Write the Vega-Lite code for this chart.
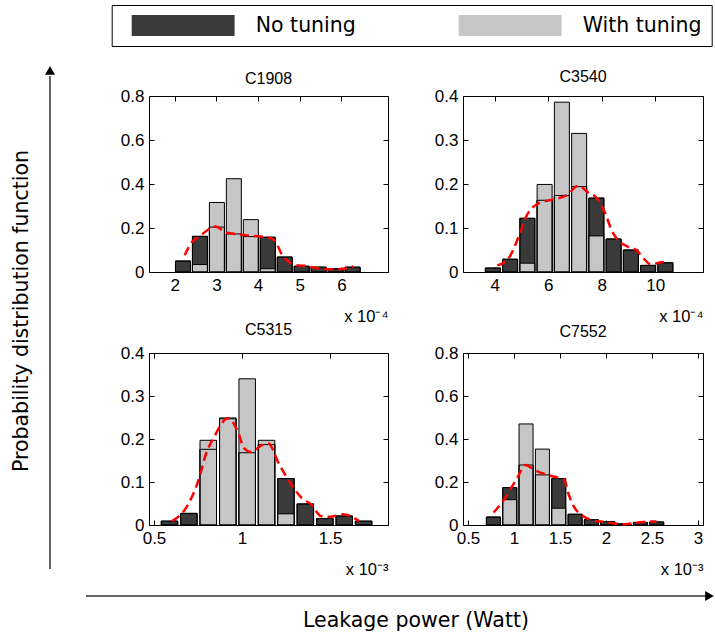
{
  "$schema": "https://vega.github.io/schema/vega-lite/v6.json",
  "padding": {"left": 0, "top": 4, "right": 0, "bottom": 0},
  "columns": 3,
  "bounds": "flush",
  "align": "each",
  "spacing": {"row": 81, "column": 75},
  "datasets": {
    "hist": [
      {"circuit": "C1908", "series": "No tuning", "leakage": 2.196, "pdf": 0.050},
      {"circuit": "C1908", "series": "No tuning", "leakage": 2.603, "pdf": 0.162},
      {"circuit": "C1908", "series": "No tuning", "leakage": 3.011, "pdf": 0.204},
      {"circuit": "C1908", "series": "No tuning", "leakage": 3.418, "pdf": 0.173},
      {"circuit": "C1908", "series": "No tuning", "leakage": 3.826, "pdf": 0.161},
      {"circuit": "C1908", "series": "No tuning", "leakage": 4.233, "pdf": 0.158},
      {"circuit": "C1908", "series": "No tuning", "leakage": 4.640, "pdf": 0.068},
      {"circuit": "C1908", "series": "No tuning", "leakage": 5.048, "pdf": 0.026},
      {"circuit": "C1908", "series": "No tuning", "leakage": 5.455, "pdf": 0.022},
      {"circuit": "C1908", "series": "No tuning", "leakage": 5.863, "pdf": 0.015},
      {"circuit": "C1908", "series": "No tuning", "leakage": 6.270, "pdf": 0.022},
      {"circuit": "C1908", "series": "With tuning", "leakage": 2.603, "pdf": 0.034},
      {"circuit": "C1908", "series": "With tuning", "leakage": 3.011, "pdf": 0.316},
      {"circuit": "C1908", "series": "With tuning", "leakage": 3.418, "pdf": 0.424},
      {"circuit": "C1908", "series": "With tuning", "leakage": 3.826, "pdf": 0.238},
      {"circuit": "C1908", "series": "With tuning", "leakage": 4.233, "pdf": 0.015},
      {"circuit": "C3540", "series": "No tuning", "leakage": 3.930, "pdf": 0.009},
      {"circuit": "C3540", "series": "No tuning", "leakage": 4.575, "pdf": 0.029},
      {"circuit": "C3540", "series": "No tuning", "leakage": 5.220, "pdf": 0.122},
      {"circuit": "C3540", "series": "No tuning", "leakage": 5.865, "pdf": 0.163},
      {"circuit": "C3540", "series": "No tuning", "leakage": 6.510, "pdf": 0.174},
      {"circuit": "C3540", "series": "No tuning", "leakage": 7.155, "pdf": 0.194},
      {"circuit": "C3540", "series": "No tuning", "leakage": 7.800, "pdf": 0.168},
      {"circuit": "C3540", "series": "No tuning", "leakage": 8.445, "pdf": 0.075},
      {"circuit": "C3540", "series": "No tuning", "leakage": 9.090, "pdf": 0.050},
      {"circuit": "C3540", "series": "No tuning", "leakage": 9.735, "pdf": 0.015},
      {"circuit": "C3540", "series": "No tuning", "leakage": 10.380, "pdf": 0.021},
      {"circuit": "C3540", "series": "With tuning", "leakage": 5.220, "pdf": 0.020},
      {"circuit": "C3540", "series": "With tuning", "leakage": 5.865, "pdf": 0.199},
      {"circuit": "C3540", "series": "With tuning", "leakage": 6.510, "pdf": 0.386},
      {"circuit": "C3540", "series": "With tuning", "leakage": 7.155, "pdf": 0.315},
      {"circuit": "C3540", "series": "With tuning", "leakage": 7.800, "pdf": 0.082},
      {"circuit": "C5315", "series": "No tuning", "leakage": 0.588, "pdf": 0.009},
      {"circuit": "C5315", "series": "No tuning", "leakage": 0.698, "pdf": 0.027},
      {"circuit": "C5315", "series": "No tuning", "leakage": 0.808, "pdf": 0.176},
      {"circuit": "C5315", "series": "No tuning", "leakage": 0.919, "pdf": 0.247},
      {"circuit": "C5315", "series": "No tuning", "leakage": 1.029, "pdf": 0.168},
      {"circuit": "C5315", "series": "No tuning", "leakage": 1.139, "pdf": 0.187},
      {"circuit": "C5315", "series": "No tuning", "leakage": 1.249, "pdf": 0.108},
      {"circuit": "C5315", "series": "No tuning", "leakage": 1.359, "pdf": 0.049},
      {"circuit": "C5315", "series": "No tuning", "leakage": 1.470, "pdf": 0.015},
      {"circuit": "C5315", "series": "No tuning", "leakage": 1.580, "pdf": 0.021},
      {"circuit": "C5315", "series": "No tuning", "leakage": 1.690, "pdf": 0.009},
      {"circuit": "C5315", "series": "With tuning", "leakage": 0.808, "pdf": 0.197},
      {"circuit": "C5315", "series": "With tuning", "leakage": 0.919, "pdf": 0.249},
      {"circuit": "C5315", "series": "With tuning", "leakage": 1.029, "pdf": 0.340},
      {"circuit": "C5315", "series": "With tuning", "leakage": 1.139, "pdf": 0.197},
      {"circuit": "C5315", "series": "With tuning", "leakage": 1.249, "pdf": 0.026},
      {"circuit": "C7552", "series": "No tuning", "leakage": 0.776, "pdf": 0.037},
      {"circuit": "C7552", "series": "No tuning", "leakage": 0.954, "pdf": 0.174},
      {"circuit": "C7552", "series": "No tuning", "leakage": 1.131, "pdf": 0.279},
      {"circuit": "C7552", "series": "No tuning", "leakage": 1.309, "pdf": 0.233},
      {"circuit": "C7552", "series": "No tuning", "leakage": 1.486, "pdf": 0.216},
      {"circuit": "C7552", "series": "No tuning", "leakage": 1.664, "pdf": 0.050},
      {"circuit": "C7552", "series": "No tuning", "leakage": 1.841, "pdf": 0.025},
      {"circuit": "C7552", "series": "No tuning", "leakage": 2.019, "pdf": 0.016},
      {"circuit": "C7552", "series": "No tuning", "leakage": 2.196, "pdf": 0.005},
      {"circuit": "C7552", "series": "No tuning", "leakage": 2.374, "pdf": 0.012},
      {"circuit": "C7552", "series": "No tuning", "leakage": 2.551, "pdf": 0.014},
      {"circuit": "C7552", "series": "With tuning", "leakage": 0.954, "pdf": 0.118},
      {"circuit": "C7552", "series": "With tuning", "leakage": 1.131, "pdf": 0.470},
      {"circuit": "C7552", "series": "With tuning", "leakage": 1.309, "pdf": 0.353},
      {"circuit": "C7552", "series": "With tuning", "leakage": 1.486, "pdf": 0.078}
    ],
    "fit": [
      {"circuit": "C1908", "leakage": 2.237, "pdf": 0.076},
      {"circuit": "C1908", "leakage": 2.406, "pdf": 0.135},
      {"circuit": "C1908", "leakage": 2.599, "pdf": 0.163},
      {"circuit": "C1908", "leakage": 2.982, "pdf": 0.207},
      {"circuit": "C1908", "leakage": 3.212, "pdf": 0.181},
      {"circuit": "C1908", "leakage": 3.443, "pdf": 0.173},
      {"circuit": "C1908", "leakage": 3.751, "pdf": 0.166},
      {"circuit": "C1908", "leakage": 4.058, "pdf": 0.161},
      {"circuit": "C1908", "leakage": 4.327, "pdf": 0.153},
      {"circuit": "C1908", "leakage": 4.442, "pdf": 0.130},
      {"circuit": "C1908", "leakage": 4.557, "pdf": 0.084},
      {"circuit": "C1908", "leakage": 4.673, "pdf": 0.057},
      {"circuit": "C1908", "leakage": 4.903, "pdf": 0.031},
      {"circuit": "C1908", "leakage": 5.134, "pdf": 0.028},
      {"circuit": "C1908", "leakage": 5.364, "pdf": 0.019},
      {"circuit": "C1908", "leakage": 5.747, "pdf": 0.012},
      {"circuit": "C1908", "leakage": 6.055, "pdf": 0.015},
      {"circuit": "C1908", "leakage": 6.286, "pdf": 0.025},
      {"circuit": "C3540", "leakage": 4.095, "pdf": 0.015},
      {"circuit": "C3540", "leakage": 4.451, "pdf": 0.026},
      {"circuit": "C3540", "leakage": 4.925, "pdf": 0.085},
      {"circuit": "C3540", "leakage": 5.162, "pdf": 0.124},
      {"circuit": "C3540", "leakage": 5.636, "pdf": 0.156},
      {"circuit": "C3540", "leakage": 6.111, "pdf": 0.164},
      {"circuit": "C3540", "leakage": 6.704, "pdf": 0.175},
      {"circuit": "C3540", "leakage": 7.119, "pdf": 0.196},
      {"circuit": "C3540", "leakage": 7.534, "pdf": 0.179},
      {"circuit": "C3540", "leakage": 7.771, "pdf": 0.171},
      {"circuit": "C3540", "leakage": 8.127, "pdf": 0.134},
      {"circuit": "C3540", "leakage": 8.364, "pdf": 0.096},
      {"circuit": "C3540", "leakage": 8.601, "pdf": 0.073},
      {"circuit": "C3540", "leakage": 8.957, "pdf": 0.058},
      {"circuit": "C3540", "leakage": 9.312, "pdf": 0.049},
      {"circuit": "C3540", "leakage": 9.550, "pdf": 0.032},
      {"circuit": "C3540", "leakage": 9.846, "pdf": 0.017},
      {"circuit": "C3540", "leakage": 10.143, "pdf": 0.021},
      {"circuit": "C3540", "leakage": 10.380, "pdf": 0.023},
      {"circuit": "C5315", "leakage": 0.603, "pdf": 0.009},
      {"circuit": "C5315", "leakage": 0.694, "pdf": 0.048},
      {"circuit": "C5315", "leakage": 0.757, "pdf": 0.110},
      {"circuit": "C5315", "leakage": 0.794, "pdf": 0.164},
      {"circuit": "C5315", "leakage": 0.839, "pdf": 0.203},
      {"circuit": "C5315", "leakage": 0.921, "pdf": 0.248},
      {"circuit": "C5315", "leakage": 0.975, "pdf": 0.218},
      {"circuit": "C5315", "leakage": 1.011, "pdf": 0.179},
      {"circuit": "C5315", "leakage": 1.048, "pdf": 0.170},
      {"circuit": "C5315", "leakage": 1.120, "pdf": 0.187},
      {"circuit": "C5315", "leakage": 1.147, "pdf": 0.190},
      {"circuit": "C5315", "leakage": 1.211, "pdf": 0.141},
      {"circuit": "C5315", "leakage": 1.274, "pdf": 0.098},
      {"circuit": "C5315", "leakage": 1.338, "pdf": 0.063},
      {"circuit": "C5315", "leakage": 1.392, "pdf": 0.048},
      {"circuit": "C5315", "leakage": 1.447, "pdf": 0.021},
      {"circuit": "C5315", "leakage": 1.501, "pdf": 0.019},
      {"circuit": "C5315", "leakage": 1.573, "pdf": 0.025},
      {"circuit": "C5315", "leakage": 1.664, "pdf": 0.009},
      {"circuit": "C7552", "leakage": 0.778, "pdf": 0.058},
      {"circuit": "C7552", "leakage": 0.882, "pdf": 0.112},
      {"circuit": "C7552", "leakage": 0.951, "pdf": 0.159},
      {"circuit": "C7552", "leakage": 1.038, "pdf": 0.221},
      {"circuit": "C7552", "leakage": 1.125, "pdf": 0.279},
      {"circuit": "C7552", "leakage": 1.229, "pdf": 0.255},
      {"circuit": "C7552", "leakage": 1.333, "pdf": 0.237},
      {"circuit": "C7552", "leakage": 1.472, "pdf": 0.221},
      {"circuit": "C7552", "leakage": 1.542, "pdf": 0.213},
      {"circuit": "C7552", "leakage": 1.594, "pdf": 0.143},
      {"circuit": "C7552", "leakage": 1.646, "pdf": 0.089},
      {"circuit": "C7552", "leakage": 1.733, "pdf": 0.047},
      {"circuit": "C7552", "leakage": 1.854, "pdf": 0.022},
      {"circuit": "C7552", "leakage": 1.993, "pdf": 0.014},
      {"circuit": "C7552", "leakage": 2.201, "pdf": 0.003},
      {"circuit": "C7552", "leakage": 2.340, "pdf": 0.011},
      {"circuit": "C7552", "leakage": 2.479, "pdf": 0.016},
      {"circuit": "C7552", "leakage": 2.549, "pdf": 0.016}
    ]
  },
  "concat": [
    {
      "width": 74, "height": 176,
      "data": {"values": [{"pos": 0.6757, "from": -1.6875, "to": 1.1136, "head": 1.146}]},
      "layer": [
        {"mark": {"type": "rule", "color": "#333333", "strokeWidth": 1.5},
         "encoding": {
           "x": {"field": "pos", "type": "quantitative", "scale": {"domain": [0, 1], "nice": false, "zero": false}, "axis": null},
           "y": {"field": "from", "type": "quantitative", "scale": {"domain": [0, 1], "nice": false, "zero": false}, "axis": null},
           "y2": {"field": "to"}}},
        {"mark": {"type": "point", "shape": "triangle-up", "size": 100, "filled": true, "color": "black", "opacity": 1},
         "encoding": {
           "x": {"field": "pos", "type": "quantitative", "scale": {"domain": [0, 1], "nice": false, "zero": false}, "axis": null},
           "y": {"field": "head", "type": "quantitative", "scale": {"domain": [0, 1], "nice": false, "zero": false}, "axis": null}}}
      ]
    },
    {
      "width": 239, "height": 176,
      "title": {"text": "C1908", "offset": 0},
      "view": {"stroke": "black", "strokeWidth": 1},
      "resolve": {"axis": {"x": "independent", "y": "independent"}},
      "layer": [
        {"data": {"name": "hist"}, "transform": [{"filter": "datum.circuit === 'C1908' && datum.series === 'No tuning'"}],
         "mark": {"type": "bar", "width": 15, "stroke": "black", "strokeWidth": 1},
         "encoding": {
           "x": {"field": "leakage", "type": "quantitative", "scale": {"domain": [1.5, 7], "nice": false, "zero": false}, "axis": {"values": [2, 3, 4, 5, 6], "title": "x 10⁻⁴"}},
           "y": {"field": "pdf", "type": "quantitative", "scale": {"domain": [0, 0.8], "nice": false}, "axis": {"values": [0, 0.2, 0.4, 0.6, 0.8], "title": null}},
           "color": {"field": "series", "type": "nominal", "scale": {"domain": ["No tuning", "With tuning"], "range": ["#3a3a3a", "#c6c6c6"]},
             "legend": {"orient": "none", "legendX": 111.7, "legendY": -91, "direction": "horizontal", "columns": 2, "title": null, "symbolType": "M-1,-1H8.8V1H-1Z", "symbolSize": 441, "symbolStrokeWidth": 0, "symbolOffset": 10, "labelFont": "DejaVu Sans", "labelFontSize": 20.5, "labelColor": "black", "labelOffset": 103, "columnPadding": 92, "strokeColor": "black", "fillColor": "white", "padding": 10}}
         }},
        {"data": {"name": "hist"}, "transform": [{"filter": "datum.circuit === 'C1908' && datum.series === 'With tuning'"}],
         "mark": {"type": "bar", "width": 15, "stroke": "black", "strokeWidth": 1},
         "encoding": {
           "x": {"field": "leakage", "type": "quantitative", "scale": {"domain": [1.5, 7], "nice": false, "zero": false}, "axis": null},
           "y": {"field": "pdf", "type": "quantitative", "scale": {"domain": [0, 0.8], "nice": false}, "axis": null},
           "color": {"field": "series", "type": "nominal", "scale": {"domain": ["No tuning", "With tuning"], "range": ["#3a3a3a", "#c6c6c6"]}}
         }},
        {"data": {"name": "hist"}, "transform": [{"filter": "datum.circuit === 'C1908' && datum.series === 'No tuning'"}],
         "mark": {"type": "bar", "width": 15, "filled": false, "stroke": "black", "strokeWidth": 1},
         "encoding": {
           "x": {"field": "leakage", "type": "quantitative", "scale": {"domain": [1.5, 7], "nice": false, "zero": false}, "axis": null},
           "y": {"field": "pdf", "type": "quantitative", "scale": {"domain": [0, 0.8], "nice": false}, "axis": null}
         }},
        {"data": {"name": "fit"}, "transform": [{"filter": "datum.circuit === 'C1908'"}],
         "mark": {"type": "line", "color": "#ff0000", "strokeWidth": 2.5, "strokeDash": [9, 5], "interpolate": "monotone"},
         "encoding": {
           "x": {"field": "leakage", "type": "quantitative", "scale": {"domain": [1.5, 7], "nice": false, "zero": false}, "axis": {"orient": "top", "values": [2, 3, 4, 5, 6], "labels": false, "title": null}},
           "y": {"field": "pdf", "type": "quantitative", "scale": {"domain": [0, 0.8], "nice": false}, "axis": {"orient": "right", "values": [0, 0.2, 0.4, 0.6, 0.8], "labels": false, "title": null}}
         }}
      ]
    },
    {
      "width": 240, "height": 176,
      "title": {"text": "C3540", "offset": 2},
      "view": {"stroke": "black", "strokeWidth": 1},
      "resolve": {"axis": {"x": "independent", "y": "independent"}},
      "layer": [
        {"data": {"name": "hist"}, "transform": [{"filter": "datum.circuit === 'C3540' && datum.series === 'No tuning'"}],
         "mark": {"type": "bar", "width": 15, "stroke": "black", "strokeWidth": 1},
         "encoding": {
           "x": {"field": "leakage", "type": "quantitative", "scale": {"domain": [3, 11.6], "nice": false, "zero": false}, "axis": {"values": [4, 6, 8, 10], "title": "x 10⁻⁴"}},
           "y": {"field": "pdf", "type": "quantitative", "scale": {"domain": [0, 0.4], "nice": false}, "axis": {"values": [0, 0.1, 0.2, 0.3, 0.4], "title": null}},
           "color": {"field": "series", "type": "nominal", "scale": {"domain": ["No tuning", "With tuning"], "range": ["#3a3a3a", "#c6c6c6"]}}
         }},
        {"data": {"name": "hist"}, "transform": [{"filter": "datum.circuit === 'C3540' && datum.series === 'With tuning'"}],
         "mark": {"type": "bar", "width": 15, "stroke": "black", "strokeWidth": 1},
         "encoding": {
           "x": {"field": "leakage", "type": "quantitative", "scale": {"domain": [3, 11.6], "nice": false, "zero": false}, "axis": null},
           "y": {"field": "pdf", "type": "quantitative", "scale": {"domain": [0, 0.4], "nice": false}, "axis": null},
           "color": {"field": "series", "type": "nominal", "scale": {"domain": ["No tuning", "With tuning"], "range": ["#3a3a3a", "#c6c6c6"]}}
         }},
        {"data": {"name": "hist"}, "transform": [{"filter": "datum.circuit === 'C3540' && datum.series === 'No tuning'"}],
         "mark": {"type": "bar", "width": 15, "filled": false, "stroke": "black", "strokeWidth": 1},
         "encoding": {
           "x": {"field": "leakage", "type": "quantitative", "scale": {"domain": [3, 11.6], "nice": false, "zero": false}, "axis": null},
           "y": {"field": "pdf", "type": "quantitative", "scale": {"domain": [0, 0.4], "nice": false}, "axis": null}
         }},
        {"data": {"name": "fit"}, "transform": [{"filter": "datum.circuit === 'C3540'"}],
         "mark": {"type": "line", "color": "#ff0000", "strokeWidth": 2.5, "strokeDash": [9, 5], "interpolate": "monotone"},
         "encoding": {
           "x": {"field": "leakage", "type": "quantitative", "scale": {"domain": [3, 11.6], "nice": false, "zero": false}, "axis": {"orient": "top", "values": [4, 6, 8, 10], "labels": false, "title": null}},
           "y": {"field": "pdf", "type": "quantitative", "scale": {"domain": [0, 0.4], "nice": false}, "axis": {"orient": "right", "values": [0, 0.1, 0.2, 0.3, 0.4], "labels": false, "title": null}}
         }}
      ]
    },
    {
      "width": 44, "height": 172,
      "data": {"values": [{"label": "Probability distribution function", "pos": 1.2442}]},
      "mark": {"type": "text", "angle": 270, "font": "DejaVu Sans", "fontSize": 20.5, "color": "black", "align": "center", "baseline": "middle"},
      "encoding": {
        "y": {"field": "pos", "type": "quantitative", "scale": {"domain": [0, 1], "nice": false, "zero": false}, "axis": null},
        "text": {"field": "label"}
      }
    },
    {
      "width": 239, "height": 172,
      "title": {"text": "C5315", "offset": 6},
      "view": {"stroke": "black", "strokeWidth": 1},
      "resolve": {"axis": {"x": "independent", "y": "independent"}},
      "layer": [
        {"data": {"name": "hist"}, "transform": [{"filter": "datum.circuit === 'C5315' && datum.series === 'No tuning'"}],
         "mark": {"type": "bar", "width": 16.5, "stroke": "black", "strokeWidth": 1},
         "encoding": {
           "x": {"field": "leakage", "type": "quantitative", "scale": {"domain": [0.5, 1.8], "nice": false, "zero": false}, "axis": {"values": [0.5, 1, 1.5], "title": "x 10⁻³"}},
           "y": {"field": "pdf", "type": "quantitative", "scale": {"domain": [0, 0.4], "nice": false}, "axis": {"values": [0, 0.1, 0.2, 0.3, 0.4], "title": null}},
           "color": {"field": "series", "type": "nominal", "scale": {"domain": ["No tuning", "With tuning"], "range": ["#3a3a3a", "#c6c6c6"]}}
         }},
        {"data": {"name": "hist"}, "transform": [{"filter": "datum.circuit === 'C5315' && datum.series === 'With tuning'"}],
         "mark": {"type": "bar", "width": 16.5, "stroke": "black", "strokeWidth": 1},
         "encoding": {
           "x": {"field": "leakage", "type": "quantitative", "scale": {"domain": [0.5, 1.8], "nice": false, "zero": false}, "axis": null},
           "y": {"field": "pdf", "type": "quantitative", "scale": {"domain": [0, 0.4], "nice": false}, "axis": null},
           "color": {"field": "series", "type": "nominal", "scale": {"domain": ["No tuning", "With tuning"], "range": ["#3a3a3a", "#c6c6c6"]}}
         }},
        {"data": {"name": "hist"}, "transform": [{"filter": "datum.circuit === 'C5315' && datum.series === 'No tuning'"}],
         "mark": {"type": "bar", "width": 16.5, "filled": false, "stroke": "black", "strokeWidth": 1},
         "encoding": {
           "x": {"field": "leakage", "type": "quantitative", "scale": {"domain": [0.5, 1.8], "nice": false, "zero": false}, "axis": null},
           "y": {"field": "pdf", "type": "quantitative", "scale": {"domain": [0, 0.4], "nice": false}, "axis": null}
         }},
        {"data": {"name": "fit"}, "transform": [{"filter": "datum.circuit === 'C5315'"}],
         "mark": {"type": "line", "color": "#ff0000", "strokeWidth": 2.5, "strokeDash": [9, 5], "interpolate": "monotone"},
         "encoding": {
           "x": {"field": "leakage", "type": "quantitative", "scale": {"domain": [0.5, 1.8], "nice": false, "zero": false}, "axis": {"orient": "top", "values": [0.5, 1, 1.5], "labels": false, "title": null}},
           "y": {"field": "pdf", "type": "quantitative", "scale": {"domain": [0, 0.4], "nice": false}, "axis": {"orient": "right", "values": [0, 0.1, 0.2, 0.3, 0.4], "labels": false, "title": null}}
         }}
      ]
    },
    {
      "width": 240, "height": 172,
      "title": {"text": "C7552", "offset": 4},
      "view": {"stroke": "black", "strokeWidth": 1},
      "resolve": {"axis": {"x": "independent", "y": "independent"}},
      "layer": [
        {"data": {"name": "hist"}, "transform": [{"filter": "datum.circuit === 'C7552' && datum.series === 'No tuning'"}],
         "mark": {"type": "bar", "width": 14, "stroke": "black", "strokeWidth": 1},
         "encoding": {
           "x": {"field": "leakage", "type": "quantitative", "scale": {"domain": [0.5, 3], "nice": false, "zero": false}, "axis": {"values": [0.5, 1, 1.5, 2, 2.5, 3], "title": "x 10⁻³"}},
           "y": {"field": "pdf", "type": "quantitative", "scale": {"domain": [0, 0.8], "nice": false}, "axis": {"values": [0, 0.2, 0.4, 0.6, 0.8], "title": null}},
           "color": {"field": "series", "type": "nominal", "scale": {"domain": ["No tuning", "With tuning"], "range": ["#3a3a3a", "#c6c6c6"]}}
         }},
        {"data": {"name": "hist"}, "transform": [{"filter": "datum.circuit === 'C7552' && datum.series === 'With tuning'"}],
         "mark": {"type": "bar", "width": 14, "stroke": "black", "strokeWidth": 1},
         "encoding": {
           "x": {"field": "leakage", "type": "quantitative", "scale": {"domain": [0.5, 3], "nice": false, "zero": false}, "axis": null},
           "y": {"field": "pdf", "type": "quantitative", "scale": {"domain": [0, 0.8], "nice": false}, "axis": null},
           "color": {"field": "series", "type": "nominal", "scale": {"domain": ["No tuning", "With tuning"], "range": ["#3a3a3a", "#c6c6c6"]}}
         }},
        {"data": {"name": "hist"}, "transform": [{"filter": "datum.circuit === 'C7552' && datum.series === 'No tuning'"}],
         "mark": {"type": "bar", "width": 14, "filled": false, "stroke": "black", "strokeWidth": 1},
         "encoding": {
           "x": {"field": "leakage", "type": "quantitative", "scale": {"domain": [0.5, 3], "nice": false, "zero": false}, "axis": null},
           "y": {"field": "pdf", "type": "quantitative", "scale": {"domain": [0, 0.8], "nice": false}, "axis": null}
         }},
        {"data": {"name": "fit"}, "transform": [{"filter": "datum.circuit === 'C7552'"}],
         "mark": {"type": "line", "color": "#ff0000", "strokeWidth": 2.5, "strokeDash": [9, 5], "interpolate": "monotone"},
         "encoding": {
           "x": {"field": "leakage", "type": "quantitative", "scale": {"domain": [0.5, 3], "nice": false, "zero": false}, "axis": {"orient": "top", "values": [0.5, 1, 1.5, 2, 2.5, 3], "labels": false, "title": null}},
           "y": {"field": "pdf", "type": "quantitative", "scale": {"domain": [0, 0.8], "nice": false}, "axis": {"orient": "right", "values": [0, 0.2, 0.4, 0.6, 0.8], "labels": false, "title": null}}
         }}
      ]
    },
    {
      "width": 74, "height": 30,
      "data": {"values": [{"from": 1.1622, "to": 9.5405, "head": 9.5878, "level": 1.3333, "label": "Leakage power (Watt)", "center": 5.6216}]},
      "layer": [
        {"mark": {"type": "rule", "color": "#333333", "strokeWidth": 1.5},
         "encoding": {
           "x": {"field": "from", "type": "quantitative", "scale": {"domain": [0, 1], "nice": false, "zero": false}, "axis": null},
           "x2": {"field": "to"},
           "y": {"field": "level", "type": "quantitative", "scale": {"domain": [0, 1], "nice": false, "zero": false}, "axis": null}}},
        {"mark": {"type": "point", "shape": "triangle-right", "size": 100, "filled": true, "color": "black", "opacity": 1},
         "encoding": {
           "x": {"field": "head", "type": "quantitative", "scale": {"domain": [0, 1], "nice": false, "zero": false}, "axis": null},
           "y": {"field": "level", "type": "quantitative", "scale": {"domain": [0, 1], "nice": false, "zero": false}, "axis": null}}},
        {"mark": {"type": "text", "font": "DejaVu Sans", "fontSize": 20.5, "color": "black", "align": "center", "baseline": "middle"},
         "encoding": {
           "x": {"field": "center", "type": "quantitative", "scale": {"domain": [0, 1], "nice": false, "zero": false}, "axis": null},
           "text": {"field": "label"}}}
      ]
    }
  ],
  "config": {
    "view": {"stroke": null},
    "numberFormat": "~r",
    "axis": {"grid": false, "domain": false, "ticks": true, "tickColor": "black", "tickSize": -5, "tickWidth": 1, "labelColor": "black", "labelFont": "Liberation Sans", "labelFontSize": 17, "labelPadding": 10, "labelFlush": false, "labelOverlap": false},
    "axisX": {"titleAnchor": "end", "titleAlign": "right", "titleBaseline": "alphabetic", "titleY": 49, "titleFont": "Liberation Sans", "titleFontSize": 16.5, "titleFontWeight": "normal", "titleColor": "black"},
    "title": {"font": "Liberation Sans", "fontSize": 16, "fontWeight": "normal", "color": "black", "baseline": "alphabetic", "frame": "group"}
  }
}
